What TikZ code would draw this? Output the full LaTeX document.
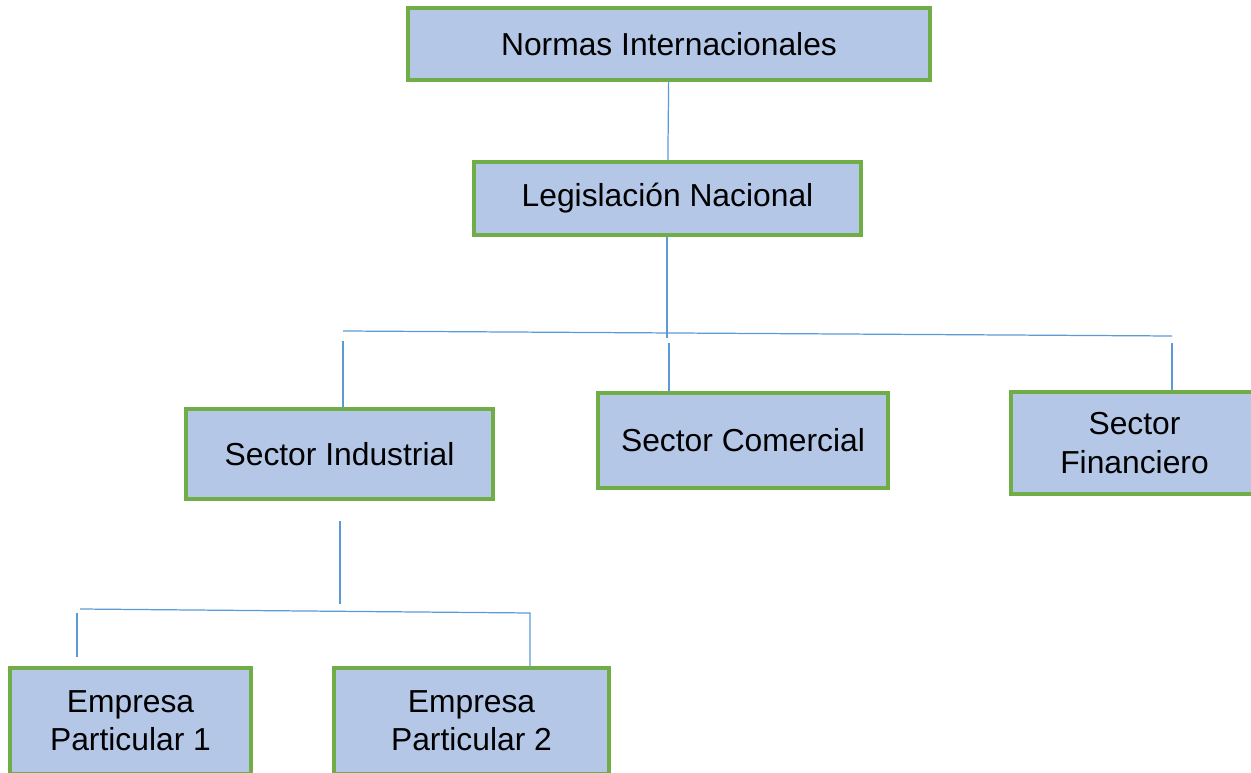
\documentclass[tikz,border=0pt]{standalone}
\usepackage{fontspec}
\setmainfont{Liberation Sans}
\usepackage{tikz}

\definecolor{boxfill}{HTML}{B4C7E7}
\definecolor{boxedge}{HTML}{70AD47}
\definecolor{linkblue}{HTML}{5B9BD5}

\tikzset{
  orgbox/.style={draw=boxedge, fill=boxfill, line width=2pt, align=center,
    inner sep=0pt, font=\fontsize{18.1}{21.8}\selectfont},
  link/.style={draw=linkblue, line width=0.7pt}
}

\begin{document}
\begin{tikzpicture}[x=0.02cm, y=-0.02cm]
            \useasboundingbox (0,0) rectangle (1251,773);

            \node [orgbox, minimum width=10.44cm, minimum height=1.44cm] (norm) at (669,44) {Normas Internacionales};
            \node [orgbox, minimum width=7.74cm, minimum height=1.46cm] (legis) at (667.5,198.5) {Legislación Nacional};
            \node [orgbox, minimum width=6.14cm, minimum height=1.8cm] (ind) at (339.5,454) {Sector Industrial};
            \node [orgbox, minimum width=5.8cm, minimum height=1.9cm] (com) at (743,440.5) {Sector Comercial};
            \node [orgbox, minimum width=4.94cm, minimum height=2.04cm] (fin) at (1134.5,443) {Sector\\Financiero};
            \node [orgbox, minimum width=4.82cm, minimum height=2.12cm] (emp1) at (130.5,721) {Empresa\\Particular 1};
            \node [orgbox, minimum width=5.5cm, minimum height=2.12cm] (emp2) at (471.5,721) {Empresa\\Particular 2};

            \coordinate (barL) at (343,331);
            \coordinate (barR) at (1172,336);
            \coordinate (barM) at (667,338);
            \coordinate (indT) at (343,341);
            \coordinate (comT) at (669,343);
            \coordinate (finT) at (1172,343);
            \coordinate (indB) at (340,521);
            \coordinate (indM) at (340,604);
            \coordinate (subL) at (80,609);
            \coordinate (subR) at (530,613);
            \coordinate (emp1T) at (77,613);

            \draw [link] (norm) -- (legis);
            \draw [link] (legis.south -| barM) -- (barM);
            \draw [link] (barL) -- (barR);
            \draw [link] (indT) -- (indT |- ind.north);
            \draw [link] (comT) -- (comT |- com.north);
            \draw [link] (finT) -- (finT |- fin.north);

            \draw [link] (indB) -- (indM);
            \draw [link] (subL) -- (subR) -- (subR |- emp2.north);
            \draw [link] (emp1T) -- ([yshift=5pt]emp1T |- emp1.north);
        \end{tikzpicture}
\end{document}
